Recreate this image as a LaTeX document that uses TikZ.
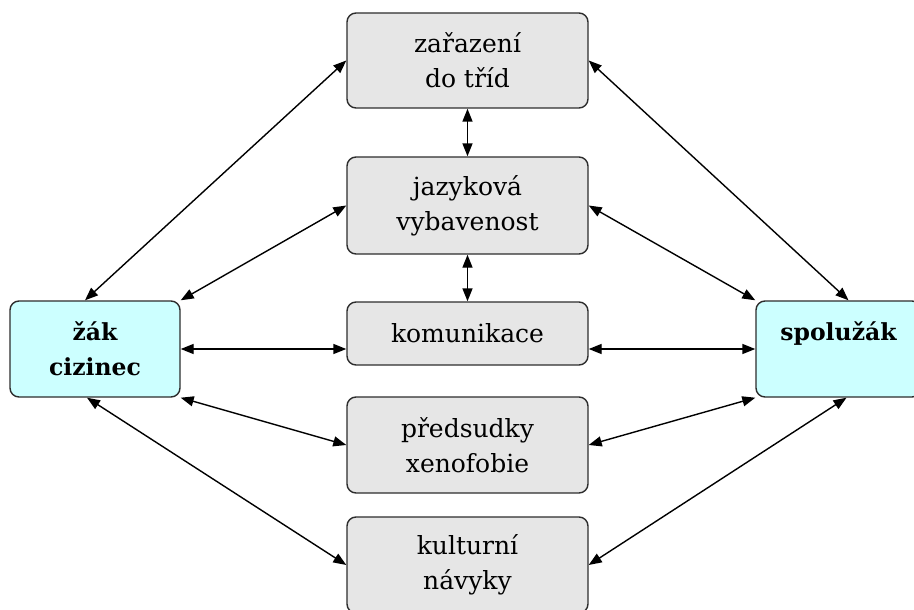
\documentclass[tikz,border=0pt]{standalone}
\usepackage{fontspec}
\setmainfont{DejaVu Serif}
\usetikzlibrary{arrows.meta}
\definecolor{boxgray}{RGB}{230,230,230}
\definecolor{boxcyan}{RGB}{204,255,255}
\definecolor{edgegray}{RGB}{45,45,45}
\begin{document}
\begin{tikzpicture}[x=1pt,y=-1pt,
  mid/.style={draw=edgegray,line width=1.4pt,fill=boxgray,rounded corners=9pt,
    minimum width=241pt,align=center,inner sep=0pt,
    font=\fontsize{25}{35}\selectfont},
  side/.style={draw=edgegray,line width=1.4pt,fill=boxcyan,rounded corners=9pt,
    minimum height=96pt,align=center,inner sep=0pt,
    font=\fontsize{23.5}{35}\selectfont\bfseries},
  link/.style={line width=1.4pt,{Triangle[length=13pt,width=10pt]}-{Triangle[length=13pt,width=10pt]}}]
\useasboundingbox (0,0) rectangle (914,610);
\node[mid,minimum height=95pt] (zarazeni) at (467.5,60.5) {zařazení\\do tříd};
\node[mid,minimum height=97pt] (jazykova) at (467.5,205.5) {jazyková\\vybavenost};
\node[mid,minimum height=63pt] (komunikace) at (467.5,333.5) {komunikace};
\node[mid,minimum height=96pt] (predsudky) at (467.5,445) {předsudky\\xenofobie};
\node[mid,minimum height=96pt] (kulturni) at (467.5,565) {kulturní\\návyky};
\node[side,minimum width=170pt] (zak) at (95,349) {žák\\cizinec};
\node[side,minimum width=165pt] (spoluzak) at (838.5,349) {spolužák\\\mbox{}};
% left
\draw[link] ([xshift=-10pt]zak.north) -- (zarazeni.west);
\draw[link] (zak.north east) -- (jazykova.west);
\draw[link] (zak.east) -- (komunikace.west |- zak.east);
\draw[link] (zak.south east) -- (predsudky.west);
\draw[link] ([xshift=-8pt]zak.south) -- (kulturni.west);
% right
\draw[link] (zarazeni.east) -- ([xshift=10pt]spoluzak.north);
\draw[link] (jazykova.east) -- (spoluzak.north west);
\draw[link] (komunikace.east |- spoluzak.west) -- (spoluzak.west);
\draw[link] (predsudky.east) -- (spoluzak.south west);
\draw[link] (kulturni.east) -- ([xshift=8pt]spoluzak.south);
% vertical
\draw[link] (zarazeni.south) -- (jazykova.north);
\draw[link] (jazykova.south) -- (komunikace.north);
\end{tikzpicture}
\end{document}
